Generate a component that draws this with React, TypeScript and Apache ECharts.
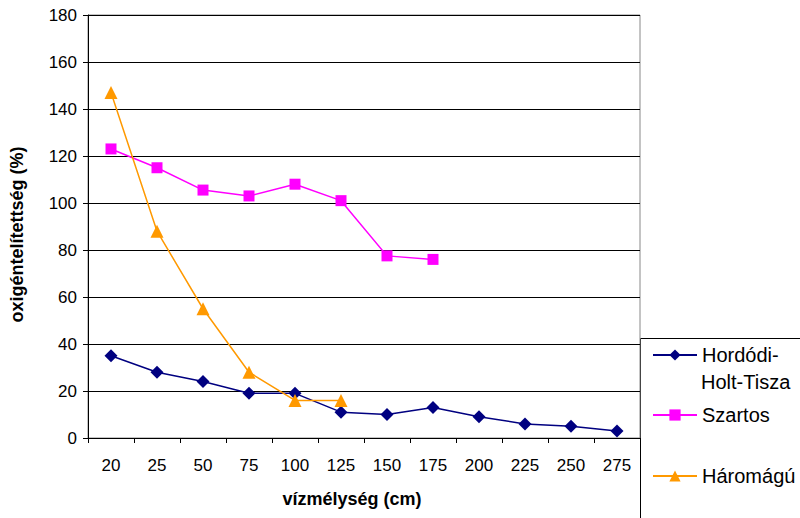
import React, { useEffect, useRef } from "react";
import * as echarts from "echarts";

const categories = ["20", "25", "50", "75", "100", "125", "150", "175", "200", "225", "250", "275"];
const hordodi = [35, 28, 24, 19, 19, 11, 10, 13, 9, 6, 5, 3];
const szartos = [123, 115, 105.5, 103, 108, 101, 77.5, 76];
const haromagu = [147, 88, 55, 28, 16, 16];

const FONT = "Liberation Sans, Arial, sans-serif";

export default function App() {
  const ref = useRef<HTMLDivElement>(null);
  useEffect(() => {
    if (!ref.current) return;
    const chart = echarts.init(ref.current, undefined, { renderer: "svg" });
    const legendCommon = {
      orient: "vertical",
      left: 652,
      padding: 0,
      itemWidth: 44,
      itemHeight: 14,
      itemGap: 5,
      selectedMode: false,
      textStyle: { fontFamily: FONT, fontSize: 20, color: "#000", lineHeight: 24 },
    };
    chart.setOption({
      animation: false,
      backgroundColor: "#fff",
      textStyle: { fontFamily: FONT },
      grid: {
        left: 83,
        right: 160,
        top: 15,
        bottom: 80,
        show: true,
        borderColor: "#888",
        borderWidth: 1,
        backgroundColor: "#fff",
      },
      legend: [
        {
          ...legendCommon,
          top: 343,
          data: ["Hordódi-Holt-Tisza"],
          formatter: () => "Hordódi-",
        },
        { ...legendCommon, top: 403, data: ["Szartos"] },
        { ...legendCommon, top: 464, data: ["Háromágú"] },
      ],
      xAxis: {
        type: "category",
        data: categories,
        boundaryGap: true,
        name: "vízmélység (cm)",
        nameLocation: "middle",
        nameGap: 52,
        nameTextStyle: {
          fontFamily: FONT,
          fontSize: 18,
          fontWeight: "bold",
          color: "#000",
          padding: [0, 24, 0, 0],
        },
        axisLine: { lineStyle: { color: "#000", width: 1 } },
        axisTick: { show: true, alignWithLabel: false, length: 5, lineStyle: { color: "#000" } },
        axisLabel: { fontFamily: FONT, fontSize: 17, color: "#000", margin: 19 },
        splitLine: { show: false },
      },
      yAxis: {
        type: "value",
        min: 0,
        max: 180,
        interval: 20,
        name: "oxigéntelítettség (%)",
        nameLocation: "middle",
        nameGap: 62,
        nameTextStyle: {
          fontFamily: FONT,
          fontSize: 18,
          fontWeight: "bold",
          color: "#000",
          padding: [0, 16, 0, 0],
        },
        axisLine: { show: true, lineStyle: { color: "#000", width: 1 } },
        axisTick: { show: true, length: 5, lineStyle: { color: "#000" } },
        axisLabel: { fontFamily: FONT, fontSize: 17, color: "#000", margin: 11 },
        splitLine: { show: true, lineStyle: { color: "#000", width: 1 } },
      },
      series: [
        {
          name: "Hordódi-Holt-Tisza",
          type: "line",
          data: hordodi,
          symbol: "diamond",
          symbolSize: 13,
          itemStyle: { color: "#000080" },
          lineStyle: { color: "#000080", width: 1.5 },
        },
        {
          name: "Szartos",
          type: "line",
          data: szartos,
          symbol: "rect",
          symbolSize: 11,
          itemStyle: { color: "#FF00FF" },
          lineStyle: { color: "#FF00FF", width: 1.5 },
        },
        {
          name: "Háromágú",
          type: "line",
          data: haromagu,
          symbol: "triangle",
          symbolSize: 13,
          itemStyle: { color: "#FF9900" },
          lineStyle: { color: "#FF9900", width: 1.5 },
        },
      ],
      graphic: [
        {
          type: "rect",
          left: 640,
          top: 338,
          z: -1,
          shape: { width: 200, height: 200 },
          style: { fill: "#fff", stroke: "#000", lineWidth: 1 },
          silent: true,
        },
        {
          type: "text",
          x: 701,
          y: 382,
          style: {
            text: "Holt-Tisza",
            fontFamily: FONT,
            fontSize: 20,
            fill: "#000",
            verticalAlign: "middle",
            align: "left",
          },
          silent: true,
        },
      ],
    });
    return () => chart.dispose();
  }, []);
  return <div ref={ref} style={{ width: 800, height: 518, position: "absolute", left: 0, top: 0 }} />;
}
